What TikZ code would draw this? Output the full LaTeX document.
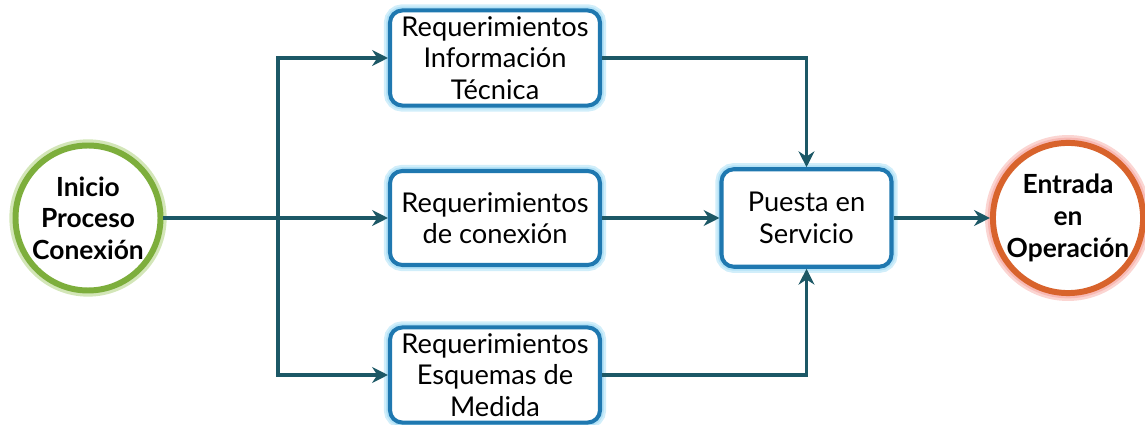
\documentclass[tikz,border=0pt]{standalone}
\usepackage{fontspec}
\setmainfont{Lato}
\usetikzlibrary{arrows.meta,positioning}

\definecolor{flecha}{HTML}{1C5866}
\definecolor{verde}{HTML}{7DAE3C}
\definecolor{verdeluz}{HTML}{D3E6B8}
\definecolor{azul}{HTML}{1F78B0}
\definecolor{azulluz}{HTML}{B3E2F7}
\definecolor{naranja}{HTML}{D8632C}
\definecolor{naranjaluz}{HTML}{F8B9B4}

\tikzset{
  etapa/.style={draw=azul, line width=2.3pt, rounded corners=7pt, fill=white,
    minimum width=4.2cm, minimum height=1.88cm, align=center,
    font=\fontsize{15.5}{18}\selectfont,
    preaction={draw=azulluz!60, line width=7pt},
    preaction={draw=azulluz, line width=4.5pt}},
  hito/.style={circle, line width=3.4pt, fill=white, minimum size=2.9cm,
    align=center, inner sep=0pt, font=\fontsize{15}{18}\selectfont\bfseries},
  conector/.style={flecha, line width=2pt, -{Stealth[length=9pt,width=9pt]}}
}

\begin{document}
\begin{tikzpicture}
\useasboundingbox (0,0) rectangle (22.9,-8.5);

% inicio y fin
\node[hito, draw=verde, preaction={draw=verdeluz, line width=7pt}] (inicio) at (1.76,-4.36) {Inicio\\Proceso\\Conexión};
\node[hito, draw=naranja, preaction={draw=naranjaluz!60, line width=9pt}, preaction={draw=naranjaluz, line width=6pt}] (fin) at (21.36,-4.36) {Entrada\\en\\Operación};

% requerimientos
\node[etapa] (reqinfo) at (9.9,-1.16) {Requerimientos\\Información\\Técnica};
\node[etapa] (reqcon) at (9.9,-4.36) {Requerimientos\\de conexión};
\node[etapa] (reqmed) at (9.9,-7.5) {Requerimientos\\Esquemas de\\Medida};
\node[etapa, minimum width=3.4cm, minimum height=1.95cm] (puesta) at (16.13,-4.36) {Puesta en\\Servicio};

\coordinate (split) at (5.56,-4.36);

% conexiones
\draw[conector] (inicio) -- (reqcon);
\draw[conector] (split) |- (reqinfo);
\draw[conector] (split) |- (reqmed);
\draw[conector] (reqinfo) -| (puesta);
\draw[conector] (reqmed) -| (puesta);
\draw[conector] (reqcon) -- (puesta);
\draw[conector] (puesta) -- (fin);
\end{tikzpicture}
\end{document}
